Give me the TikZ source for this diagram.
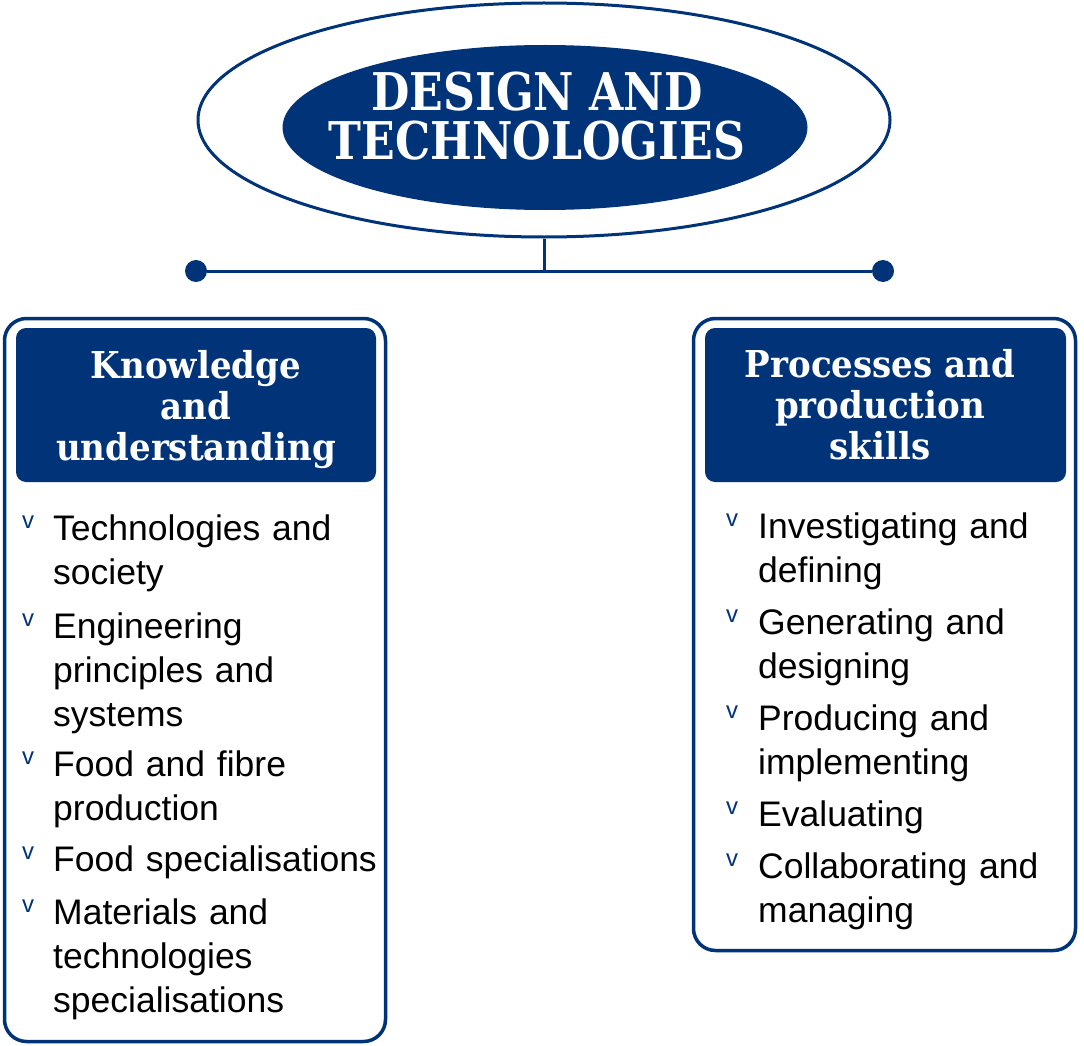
\documentclass[tikz,border=0pt]{standalone}
\usepackage{fontspec}
\setmainfont{Liberation Sans}
\newfontfamily\slabfont{DejaVu Serif}[FakeStretch=0.85]
\newfontfamily\headfont{DejaVu Serif}[FakeStretch=0.92]
\usetikzlibrary{shapes.geometric}
\definecolor{navy}{RGB}{0,51,120}

\begin{document}
\begin{tikzpicture}[x=1pt, y=-1pt,
        panel/.style={draw=navy, line width=3.5pt, rounded corners=22pt, inner sep=0pt},
        header/.style={fill=navy, rounded corners=10pt, inner sep=0pt},
        headtext/.style={text=white, align=center, inner sep=0pt, font=\headfont\bfseries\fontsize{37}{41}\selectfont},
        item/.style={anchor=base west, align=left, text width=360pt, inner sep=0pt, font=\fontsize{35.5}{44}\selectfont},
        tick/.style={anchor=base, text=navy, inner sep=0pt, font=\fontsize{24}{24}\selectfont},
        dot/.style={circle, fill=navy, minimum size=22pt, inner sep=0pt},
        link/.style={draw=navy, line width=3pt}]
        \useasboundingbox (0,0) rectangle (1084,1046);
        % top of the tree
        \node (rim) [ellipse, draw=navy, line width=3pt, minimum width=692pt, minimum height=234pt, inner sep=0pt] at (544, 120) {};
        \node (core) [ellipse, fill=navy, minimum width=525pt, minimum height=165pt, inner sep=0pt] at (545, 127.5) {};
        \node (title) [text=white, align=center, inner sep=0pt, font=\slabfont\bfseries\fontsize{52}{49}\selectfont] at (537, 116) {DESIGN AND\\TECHNOLOGIES};
        \node (dotL) [dot] at (196, 271) {};
        \node (dotR) [dot] at (883, 271) {};
        \coordinate (fork) at (544, 271);
        \draw [link] (rim.south) -- (fork);
        \draw [link] (dotL) -- (dotR);
        % the two strands
        \node (kbox) [panel, minimum width=381pt, minimum height=723pt] at (195, 680) {};
        \node (pbox) [panel, minimum width=382pt, minimum height=632pt] at (884.5, 634.5) {};
        \node (khead) [header, minimum width=360pt, minimum height=154pt] at (196, 405) {};
        \node (phead) [header, minimum width=361pt, minimum height=154pt] at (885.5, 405) {};
        \node (ktitle) [headtext] at (196, 410) {Knowledge\\and\\understanding};
        \node (ptitle) [headtext] at (880, 405) {Processes and\\production\\skills};
        % knowledge and understanding
        \node (k1) [item] at (53, 540) {Technologies and\\society};
        \node (k2) [item] at (53, 638) {Engineering\\principles and\\systems};
        \node (k3) [item] at (53, 776) {Food and fibre\\production};
        \node (k4) [item] at (53, 871) {Food specialisations};
        \node (k5) [item] at (53, 924) {Materials and\\technologies\\specialisations};
        \node (kt1) [tick] at (28, 528) {v};
        \node (kt2) [tick] at (28, 626) {v};
        \node (kt3) [tick] at (28, 764) {v};
        \node (kt4) [tick] at (28, 859) {v};
        \node (kt5) [tick] at (28, 912) {v};
        % processes and production skills
        \node (p1) [item] at (758, 538) {Investigating and\\defining};
        \node (p2) [item] at (758, 634) {Generating and\\designing};
        \node (p3) [item] at (758, 730) {Producing and\\implementing};
        \node (p4) [item] at (758, 826) {Evaluating};
        \node (p5) [item] at (758, 878) {Collaborating and\\managing};
        \node (pt1) [tick] at (732, 526) {v};
        \node (pt2) [tick] at (732, 622) {v};
        \node (pt3) [tick] at (732, 718) {v};
        \node (pt4) [tick] at (732, 814) {v};
        \node (pt5) [tick] at (732, 866) {v};
\end{tikzpicture}
\end{document}
